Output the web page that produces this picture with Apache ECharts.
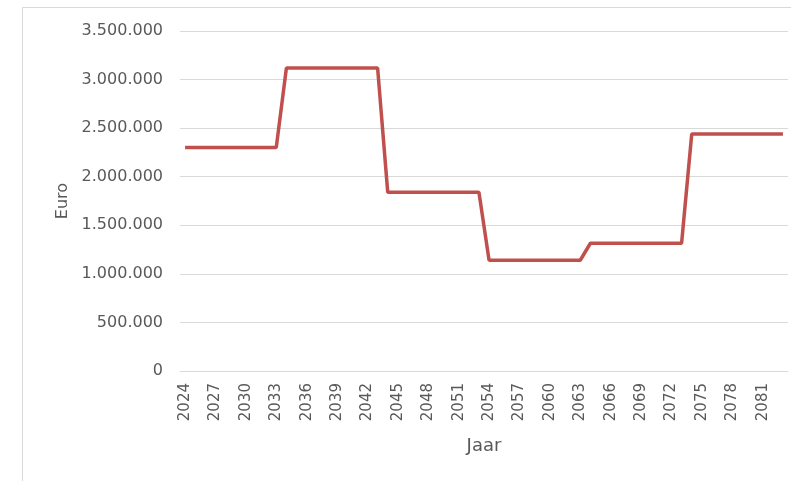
<!DOCTYPE html>
<html>
<head>
<meta charset="utf-8">
<script src="https://cdn.jsdelivr.net/npm/echarts@6/dist/echarts.min.js"></script>
<style>
  html, body { margin: 0; padding: 0; background: #fff; }
  #chart { width: 791px; height: 481px; }
</style>
</head>
<body>
<div id="chart"></div>
<script>
const years = [
  "2024", "2025", "2026", "2027", "2028", "2029", "2030", "2031", "2032", "2033",
  "2034", "2035", "2036", "2037", "2038", "2039", "2040", "2041", "2042", "2043",
  "2044", "2045", "2046", "2047", "2048", "2049", "2050", "2051", "2052", "2053",
  "2054", "2055", "2056", "2057", "2058", "2059", "2060", "2061", "2062", "2063",
  "2064", "2065", "2066", "2067", "2068", "2069", "2070", "2071", "2072", "2073",
  "2074", "2075", "2076", "2077", "2078", "2079", "2080", "2081", "2082", "2083"
];

const euro = [
  2300000, 2300000, 2300000, 2300000, 2300000, 2300000, 2300000, 2300000, 2300000, 2300000,
  3120000, 3120000, 3120000, 3120000, 3120000, 3120000, 3120000, 3120000, 3120000, 3120000,
  1840000, 1840000, 1840000, 1840000, 1840000, 1840000, 1840000, 1840000, 1840000, 1840000,
  1140000, 1140000, 1140000, 1140000, 1140000, 1140000, 1140000, 1140000, 1140000, 1140000,
  1315000, 1315000, 1315000, 1315000, 1315000, 1315000, 1315000, 1315000, 1315000, 1315000,
  2440000, 2440000, 2440000, 2440000, 2440000, 2440000, 2440000, 2440000, 2440000, 2440000
];

const textColor = "#595959";
const gridColor = "#d9d9d9";

// 3500000 -> "3.500.000"
function dots(v) {
  return String(v).replace(/\B(?=(\d{3})+(?!\d))/g, ".");
}

const chart = echarts.init(document.getElementById("chart"));
chart.setOption({
  animation: false,
  textStyle: { fontFamily: "DejaVu Sans" },
  graphic: [
    {
      type: "rect",
      shape: { x: 22.5, y: 7.5, width: 780, height: 500 },
      style: { fill: "none", stroke: gridColor, lineWidth: 1 },
      silent: true,
      z: -1
    }
  ],
  grid: { left: 180, right: 3, top: 31, bottom: 110 },
  xAxis: {
    type: "category",
    data: years,
    boundaryGap: true,
    name: "Jaar",
    nameLocation: "middle",
    nameGap: 66,
    nameTextStyle: { color: textColor, fontSize: 18 },
    axisLine: { show: true, lineStyle: { color: gridColor, width: 1 } },
    axisTick: { show: false },
    axisLabel: {
      interval: 2,
      rotate: 90,
      margin: 12,
      color: textColor,
      fontSize: 15
    }
  },
  yAxis: {
    type: "value",
    min: 0,
    max: 3500000,
    interval: 500000,
    name: "Euro",
    nameLocation: "middle",
    nameGap: 108,
    nameTextStyle: { color: textColor, fontSize: 16 },
    axisLine: { show: false },
    axisTick: { show: false },
    axisLabel: {
      margin: 17,
      color: textColor,
      fontSize: 16,
      formatter: dots
    },
    splitLine: { lineStyle: { color: gridColor, width: 1 } }
  },
  series: [
    {
      name: "Euro",
      type: "line",
      data: euro,
      symbol: "none",
      lineStyle: { color: "#c0504d", width: 3.5 },
      itemStyle: { color: "#c0504d" }
    }
  ]
});
</script>
</body>
</html>
